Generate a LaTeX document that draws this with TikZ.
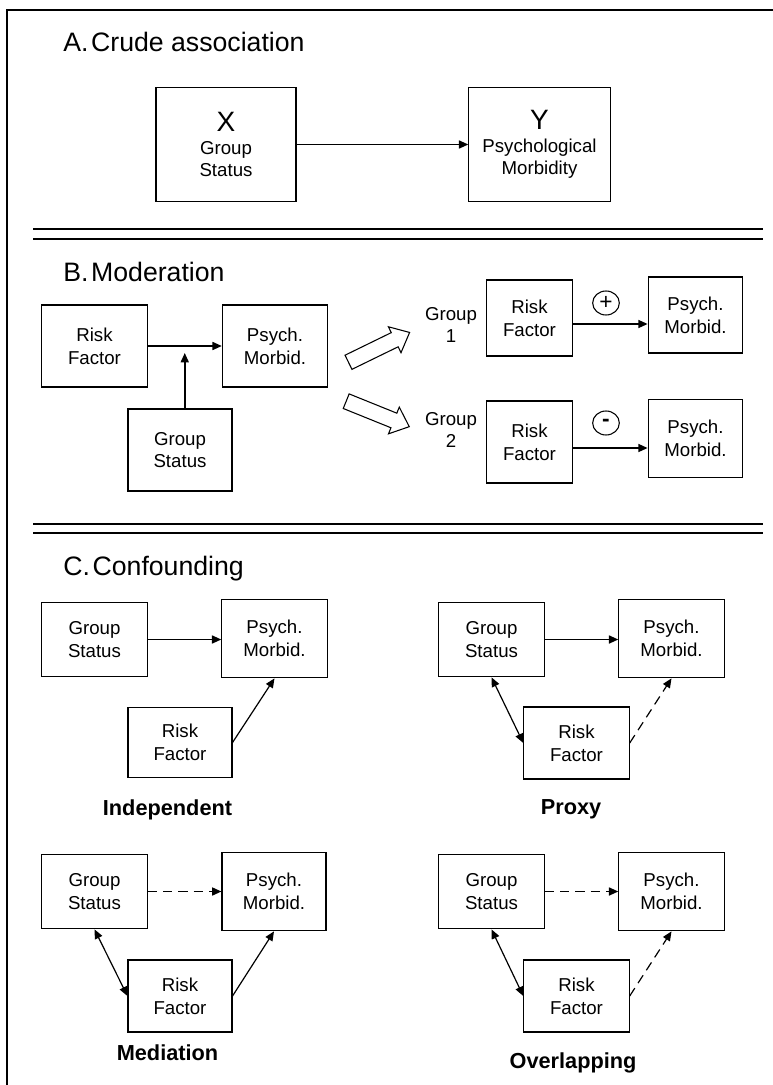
\documentclass[tikz,border=0pt]{standalone}
\usepackage{fontspec}
\setmainfont{Liberation Sans}
\usetikzlibrary{shapes.geometric, shapes.arrows, arrows.meta}

\newcommand\boxfont{\fontsize{14}{17}\selectfont}
\newcommand\headfont{\fontsize{20}{24}\selectfont}
\newcommand\labfont{\fontsize{16.3}{20}\selectfont\bfseries}

\tikzset{
  box/.style={draw, line width=0.8pt, inner sep=0pt, align=center, font=\boxfont},
  head/.style={anchor=base west, inner sep=0pt, font=\headfont},
  lab/.style={anchor=base, inner sep=0pt, font=\labfont},
  grp/.style={inner sep=0pt, align=center, font=\fontsize{14}{16}\selectfont},
  arr/.style={-{Triangle[length=7pt,width=6pt]}, line width=1.2pt},
  thinarr/.style={-{Triangle[length=7pt,width=6pt]}, line width=0.9pt},
  twoarr/.style={{Triangle[length=7pt,width=6pt]}-{Triangle[length=7pt,width=6pt]}, line width=0.9pt},
  dashedarr/.style={dash pattern=on 7pt off 4.5pt},
  sign/.style={draw, ellipse, line width=0.8pt, minimum width=20pt, minimum height=18pt, inner sep=0pt, font=\fontsize{17}{17}\selectfont},
  hollow/.style={draw, single arrow, line width=0.8pt, fill=white, minimum height=51pt,
    inner xsep=0pt, inner ysep=5.5pt, single arrow head extend=4.9pt, single arrow tip angle=82, anchor=tail},
  sepline/.style={line width=0.8pt}
}

\begin{document}
\begin{tikzpicture}[x=0.75pt,y=0.75pt,yscale=-1,xscale=1]
\useasboundingbox (0,0) rectangle (773,1085);
% frame and separators
\draw[line width=1pt] (773,10) -- (7,10) -- (7,1085);
\draw[sepline] (33,229) -- (763,229) (33,239) -- (763,239);
\draw[sepline] (33,524) -- (763,524) (33,533) -- (763,533);

% A. crude association
\node[head] (titleA) at (63,51) {A.\hspace{0.1em}Crude association};
\node[box, minimum width=105pt, minimum height=86pt] (X) at (226,144.5) {{\fontsize{21}{17}\selectfont X}\\Group\\Status};
\node[box, minimum width=106pt, minimum height=86pt] (Y) at (539.5,144.5) {{\fontsize{21}{17}\selectfont Y}\\Psychological\\Morbidity};
\draw[arr] (X) -- (Y);

% B. moderation
\node[head] (titleB) at (63,281) {B.\hspace{0.1em}Moderation};
\node[box, minimum width=79pt, minimum height=61.5pt] (rfB) at (94.5,346) {Risk\\Factor};
\node[box, minimum width=79pt, minimum height=61.5pt] (pmB) at (275,346) {Psych.\\Morbid.};
\node[box, minimum width=78pt, minimum height=61.5pt] (gsB) at (180,450) {Group\\Status};
\draw[arr] (rfB) -- (pmB);
\path (rfB.east) -- (pmB.west) coordinate[pos=0.5] (modB);
\path (modB) ++(0,7) coordinate (modtip);
\draw[arr] (modtip |- gsB.north) -- (modtip);

\node[hollow, rotate=26] (up) at (348,362.5) {};
\node[hollow, rotate=-22] (down) at (345.7,401) {};

\node[grp] (g1) at (451,325) {Group\\1};
\node[grp] (g2) at (451,430) {Group\\2};
\node[box, minimum width=64pt, minimum height=57pt] (rf1) at (529.5,318) {Risk\\Factor};
\node[box, minimum width=71pt, minimum height=57pt] (pm1) at (695.5,315) {Psych.\\Morbid.};
\node[box, minimum width=64pt, minimum height=61.5pt] (rf2) at (529.5,442) {Risk\\Factor};
\node[box, minimum width=71pt, minimum height=58pt] (pm2) at (695.5,438.5) {Psych.\\Morbid.};
\node[sign] (plus) at (606,303) {+};
\node[sign] (minus) at (606,423) {\textbf{-}};
\path (rf1.east) ++(0,6) coordinate (e1);
\draw[arr] (e1) -- (e1 -| pm1.west);
\path (rf2.east) ++(0,6) coordinate (e2);
\draw[arr] (e2) -- (e2 -| pm2.west);

% C. confounding
\node[head] (titleC) at (63,575) {C.\hspace{0.1em}Confounding};

% independent
\node[box, minimum width=79pt, minimum height=56pt] (gsI) at (94.5,639.5) {Group\\Status};
\node[box, minimum width=79pt, minimum height=59pt] (pmI) at (274.5,638.5) {Psych.\\Morbid.};
\node[box, minimum width=78pt, minimum height=53pt] (rfI) at (180,742.5) {Risk\\Factor};
\node[lab] (labI) at (167.5,815) {Independent};
\draw[arr] (gsI.east) -- (gsI.east -| pmI.west);
\draw[thinarr] (rfI.east) -- (pmI.south);

% proxy
\node[box, minimum width=79pt, minimum height=56pt] (gsP) at (491.5,639.5) {Group\\Status};
\node[box, minimum width=79pt, minimum height=59pt] (pmP) at (671.5,638.5) {Psych.\\Morbid.};
\node[box, minimum width=79pt, minimum height=54pt] (rfP) at (576.5,743) {Risk\\Factor};
\node[lab] (labP) at (571,814) {Proxy};
\draw[arr] (gsP.east) -- (gsP.east -| pmP.west);
\draw[twoarr] (gsP.south) -- (rfP.west);
\draw[thinarr, dashedarr] (rfP.east) -- (pmP.south);

% mediation
\node[box, minimum width=79pt, minimum height=56pt] (gsM) at (94.5,891.5) {Group\\Status};
\node[box, minimum width=78pt, minimum height=59pt] (pmM) at (274,891.5) {Psych.\\Morbid.};
\node[box, minimum width=78pt, minimum height=54pt] (rfM) at (180,996) {Risk\\Factor};
\node[lab] (labM) at (167.5,1060) {Mediation};
\draw[arr, dashedarr] (gsM) -- (pmM);
\draw[twoarr] (gsM.south) -- (rfM.west);
\draw[thinarr] (rfM.east) -- (pmM.south);

% overlapping
\node[box, minimum width=79pt, minimum height=56pt] (gsO) at (491.5,891.5) {Group\\Status};
\node[box, minimum width=79pt, minimum height=59pt] (pmO) at (671.5,891.5) {Psych.\\Morbid.};
\node[box, minimum width=79pt, minimum height=54pt] (rfO) at (576.5,996) {Risk\\Factor};
\node[lab] (labO) at (573,1068) {Overlapping};
\draw[arr, dashedarr] (gsO) -- (pmO);
\draw[twoarr] (gsO.south) -- (rfO.west);
\draw[thinarr, dashedarr] (rfO.east) -- (pmO.south);
\end{tikzpicture}
\end{document}
